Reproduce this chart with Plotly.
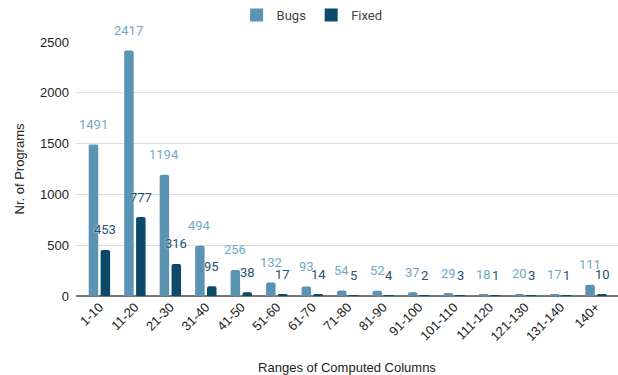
import plotly.graph_objects as go

# Column-count ranges and program counts per range
ranges = ["1-10", "11-20", "21-30", "31-40", "41-50", "51-60", "61-70", "71-80",
          "81-90", "91-100", "101-110", "111-120", "121-130", "131-140", "140+"]
bugs = [1491, 2417, 1194, 494, 256, 132, 93, 54, 52, 37, 29, 18, 20, 17, 111]
fixed = [453, 777, 316, 95, 38, 17, 14, 5, 4, 2, 3, 1, 3, 1, 10]
y_ticks = [0, 500, 1000, 1500, 2000, 2500]
series_names = ["Bugs", "Fixed"]

BUGS_COLOR = "#5b94b3"
FIXED_COLOR = "#0d4a6a"
BUGS_LABEL = "#72a7c5"
FIXED_LABEL = "#1e5273"
TICK_FONT = "Liberation Sans, Arial, sans-serif"
LABEL_FONT = "Roboto, sans-serif"

fig = go.Figure()
for name, vals, color in zip(series_names, [bugs, fixed], [BUGS_COLOR, FIXED_COLOR]):
    fig.add_trace(go.Bar(name=name, x=ranges, y=vals,
                         marker=dict(color=color, line_width=0, cornerradius=2),
                         showlegend=False, legendgroup=name))
    # square swatch for the legend
    fig.add_trace(go.Scatter(name=name, x=[None], y=[None], mode="markers",
                             marker=dict(symbol="square", size=13, color=color),
                             legendgroup=name, showlegend=True))

# Value labels floating above each bar
annotations = []
for i, (b, f) in enumerate(zip(bugs, fixed)):
    annotations.append(dict(x=i, y=b, xref="x", yref="y", text=str(b),
                            showarrow=False, xshift=-6, yshift=20, yanchor="middle",
                            font=dict(family=LABEL_FONT, size=13, color=BUGS_LABEL)))
    annotations.append(dict(x=i, y=f, xref="x", yref="y", text=str(f),
                            showarrow=False, xshift=6, yshift=20, yanchor="middle",
                            font=dict(family=LABEL_FONT, size=13, color=FIXED_LABEL,
                                      shadow="0px 0px 2px white")))

fig.update_layout(
    width=618, height=375,
    margin=dict(l=76, r=0, t=42, b=79),
    paper_bgcolor="white", plot_bgcolor="white",
    barmode="group", bargap=0.33, bargroupgap=0.2,
    showlegend=True,
    legend=dict(orientation="h", xref="container", x=0.505, xanchor="center",
                yref="container", y=1.0, yanchor="top",
                font=dict(family=LABEL_FONT, size=13, color="#444"),
                itemwidth=30, bgcolor="rgba(0,0,0,0)"),
    annotations=annotations,
    xaxis=dict(
        type="category", range=[-0.66, 14.62], tickangle=-45,
        tickfont=dict(family=TICK_FONT, size=13, color="#222"),
        showgrid=False, showline=False, zeroline=False, ticks="",
        title=dict(text="Ranges of Computed Columns", standoff=20,
                   font=dict(family=TICK_FONT, size=13, color="#222")),
    ),
    yaxis=dict(
        range=[0, 2500], tickvals=y_ticks,
        tickfont=dict(family=TICK_FONT, size=13, color="#222"),
        showgrid=True, gridcolor="#dcdcdc", gridwidth=1,
        zeroline=True, zerolinecolor="#777", zerolinewidth=1.5,
        ticklabelstandoff=6,
        title=dict(text="Nr. of Programs", standoff=12,
                   font=dict(family=TICK_FONT, size=13, color="#222")),
    ),
)

fig.write_html("out.html")
